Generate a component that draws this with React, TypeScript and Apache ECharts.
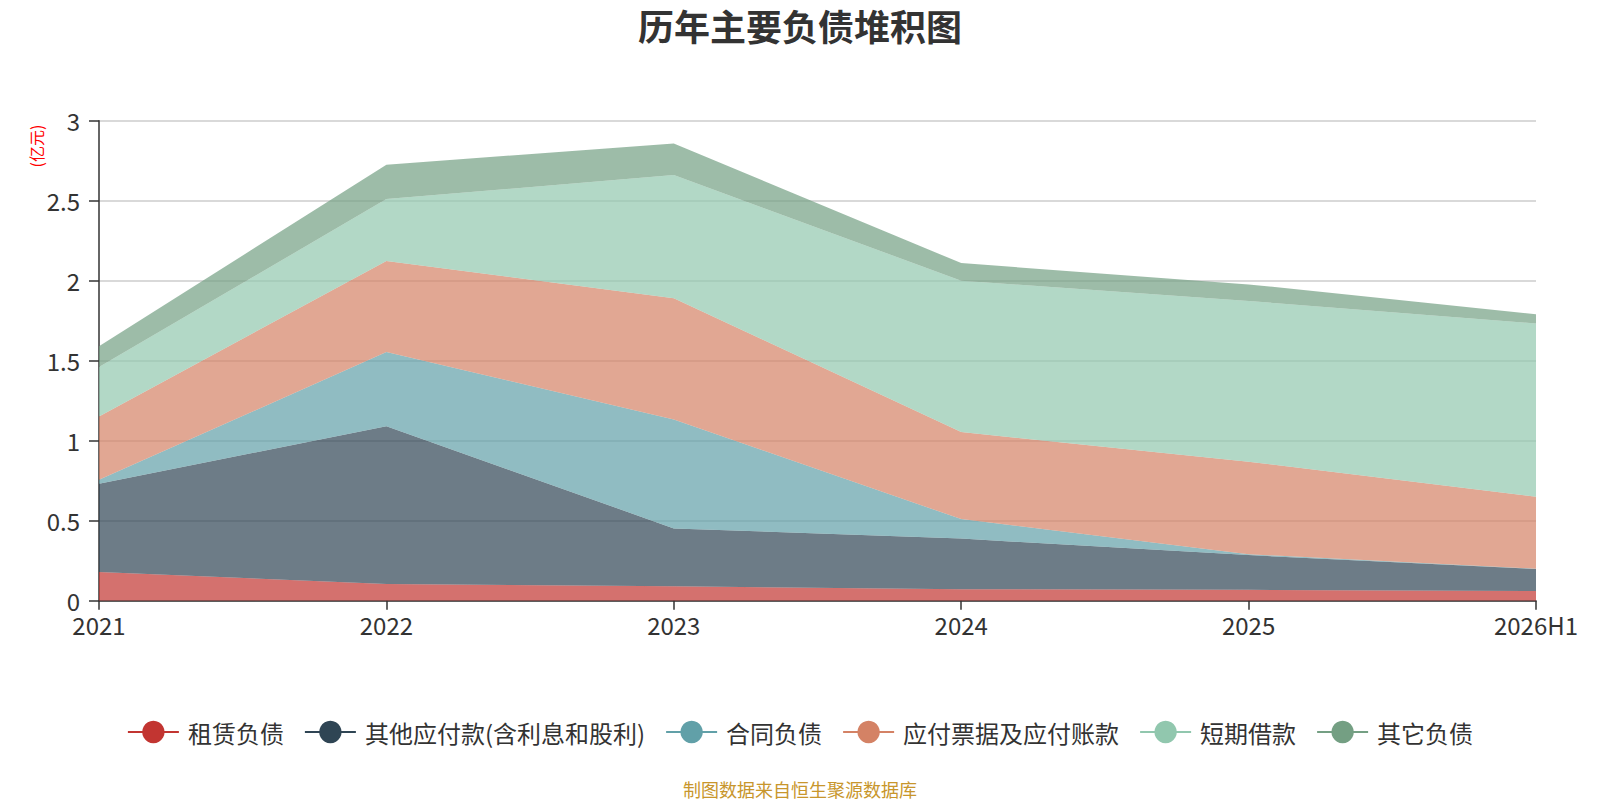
import React, { useEffect, useRef } from "react";
import * as echarts from "echarts";

const categories = ["2021", "2022", "2023", "2024", "2025", "2026H1"];
const seriesNames = ["租赁负债", "其他应付款(含利息和股利)", "合同负债", "应付票据及应付账款", "短期借款", "其它负债"];
const leaseLiab = [0.179, 0.104, 0.09, 0.072, 0.068, 0.06];
const otherPayables = [0.552, 0.986, 0.362, 0.316, 0.217, 0.138];
const contractLiab = [0.025, 0.464, 0.681, 0.122, 0.005, 0.002];
const notesAccountsPayable = [0.396, 0.569, 0.757, 0.544, 0.579, 0.45];
const shortTermLoans = [0.308, 0.387, 0.77, 0.946, 1.004, 1.083];
const otherLiab = [0.13, 0.215, 0.198, 0.11, 0.104, 0.057];
const yTicks = [0, 0.5, 1, 1.5, 2, 2.5, 3];

const colors = ["#c23531", "#2f4554", "#61a0a8", "#d48265", "#91c7ae", "#749f83"];
const FONT = "'Noto Sans CJK SC', 'Noto Sans', sans-serif";

export default function App() {
  const ref = useRef<HTMLDivElement>(null);
  useEffect(() => {
    document.body.style.margin = "0";
    if (!ref.current) return;
    const chart = echarts.init(ref.current, undefined, { renderer: "svg" });
    const dataSets = [leaseLiab, otherPayables, contractLiab, notesAccountsPayable, shortTermLoans, otherLiab];
    chart.setOption({
      animation: false,
      color: colors,
      textStyle: { fontFamily: FONT },
      title: {
        text: "历年主要负债堆积图",
        left: "center",
        top: 2,
        textStyle: { fontSize: 36, fontWeight: "bold", color: "#333", fontFamily: FONT },
      },
      legend: {
        top: 715,
        left: "center",
        itemWidth: 51,
        itemHeight: 28,
        itemGap: 20,
        lineStyle: { width: 2 },
        textStyle: { fontSize: 24, color: "#333", fontFamily: FONT, padding: [0, 0, 0, 4] },
        data: seriesNames,
      },
      grid: { left: 99, right: 64, top: 120.7, bottom: 199.3 },
      xAxis: {
        type: "category",
        boundaryGap: false,
        data: categories,
        axisLine: { lineStyle: { color: "#333", width: 1.5 } },
        axisTick: { show: true, length: 9, lineStyle: { color: "#333", width: 1.5 } },
        axisLabel: { fontSize: 24, color: "#333", margin: 12, fontFamily: FONT },
      },
      yAxis: {
        type: "value",
        min: yTicks[0],
        max: yTicks[yTicks.length - 1],
        interval: 0.5,
        axisLine: { show: true, lineStyle: { color: "#333", width: 1.5 } },
        axisTick: { show: true, length: 10, lineStyle: { color: "#333", width: 1.5 } },
        axisLabel: { fontSize: 24, color: "#333", margin: 19, fontFamily: FONT },
        splitLine: { lineStyle: { color: "#ccc", width: 1.5 } },
      },
      graphic: [
        {
          type: "text",
          x: 36,
          y: 146,
          rotation: Math.PI / 2,
          style: {
            text: "(亿元)",
            fill: "#ff0000",
            fontSize: 16,
            fontFamily: FONT,
            textAlign: "center",
            textVerticalAlign: "middle",
          },
        },
        {
          type: "text",
          x: 800,
          y: 789,
          style: {
            text: "制图数据来自恒生聚源数据库",
            fill: "#c8962c",
            fontSize: 18,
            fontFamily: FONT,
            textAlign: "center",
            textVerticalAlign: "middle",
          },
        },
      ],
      series: seriesNames.map((name, i) => ({
        name,
        type: "line",
        stack: "total",
        data: dataSets[i],
        showSymbol: false,
        symbol: "circle",
        lineStyle: { width: 0 },
        areaStyle: { opacity: 0.7 },
      })),
    });
    return () => chart.dispose();
  }, []);
  return <div ref={ref} style={{ width: 1600, height: 800 }} />;
}
